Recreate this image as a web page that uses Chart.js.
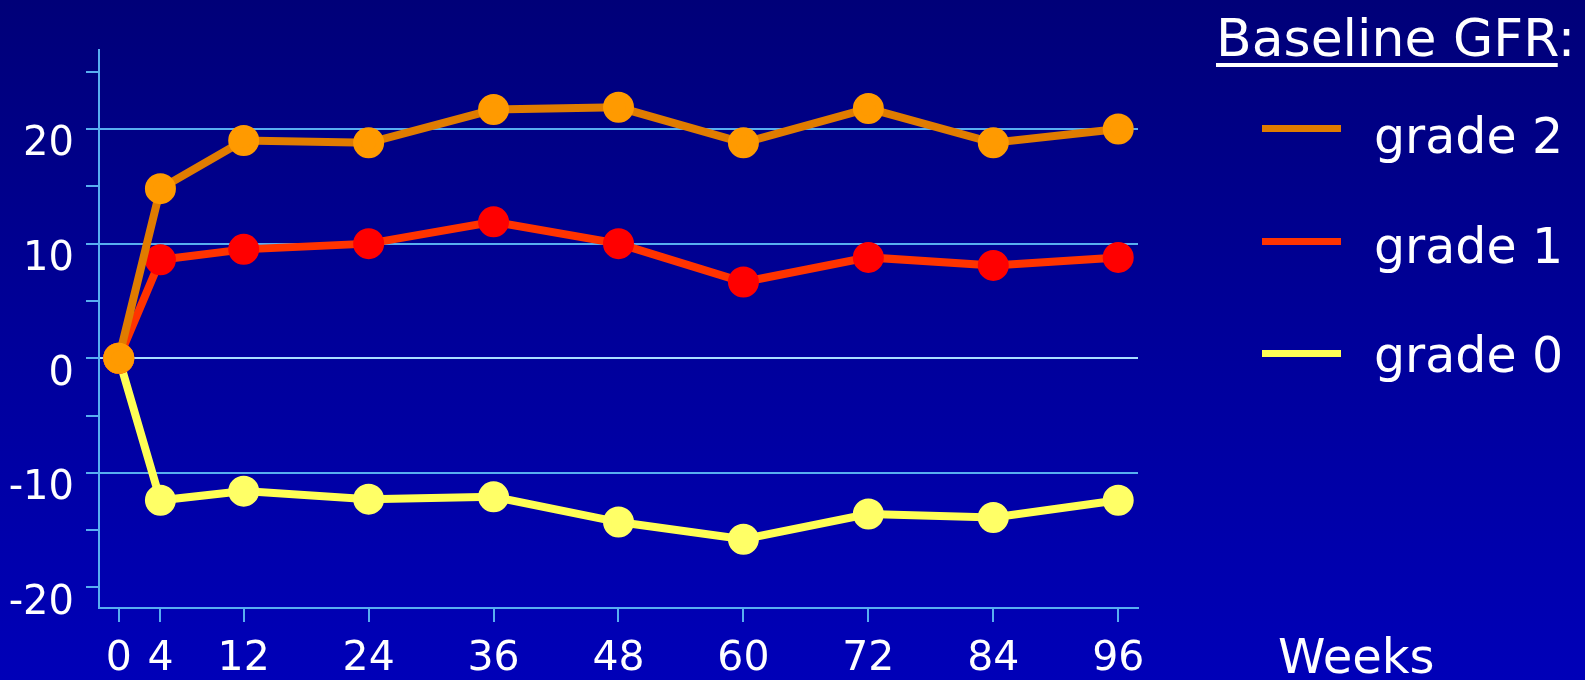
<!DOCTYPE html>
<html>
<head>
<meta charset="utf-8">
<script src="https://cdn.jsdelivr.net/npm/chart.js@4.4.1/dist/chart.umd.min.js"></script>
<style>
  html, body { margin: 0; padding: 0; }
  body {
    width: 1585px; height: 680px; overflow: hidden; position: relative;
    background: linear-gradient(to bottom, #000078 0%, #00009a 50%, #0000b8 100%);
    font-family: "DejaVu Sans", sans-serif; color: #fff;
  }
  #wrap { position: absolute; left: 0; top: 0; width: 1585px; height: 680px; }
  .txt { position: absolute; white-space: nowrap; }
  .legend-title { left: 1216px; top: 12px; font-size: 52px; line-height: 52px; }
  .legend-title span { text-decoration: underline; text-decoration-thickness: 4px; text-underline-offset: 7px; }
  .swatch { position: absolute; left: 1262px; width: 79px; height: 7px; }
  .legend-label { left: 1374px; font-size: 49px; line-height: 49px; }
  .weeks { left: 1278px; top: 632px; font-size: 48px; line-height: 48px; }
</style>
</head>
<body>
<div id="wrap"><canvas id="gfrChart" width="1585" height="680"></canvas></div>
<div class="txt legend-title"><span>Baseline GFR</span>:</div>
<div id="legend"></div>
<div class="txt weeks">Weeks</div>
<script>
// --- Data ---
const weeks = [0, 4, 12, 24, 36, 48, 60, 72, 84, 96];
const grade2 = [0, 14.8, 19.0, 18.8, 21.7, 21.9, 18.8, 21.8, 18.8, 20.0];
const grade1 = [0, 8.6, 9.5, 10.0, 11.9, 10.0, 6.65, 8.8, 8.1, 8.8];
const grade0 = [0, -12.4, -11.6, -12.3, -12.1, -14.3, -15.8, -13.6, -13.9, -12.4];
const yTicks = [-20, -15, -10, -5, 0, 5, 10, 15, 20, 25];
const yLabels = [-20, -10, 0, 10, 20];

const series = [
    { label: 'grade 2', data: grade2, line: '#e07c00', point: '#ff9a00' },
    { label: 'grade 1', data: grade1, line: '#ff3300', point: '#ff0000' },
    { label: 'grade 0', data: grade0, line: '#ffff55', point: '#ffff66' }
];

// legend (HTML), swatch centres and text tops
const swatchY = [128.5, 241, 353];
const labelTop = [112, 222, 331];
const legend = document.getElementById('legend');
series.forEach((s, i) => {
    const sw = document.createElement('div');
    sw.className = 'swatch';
    sw.style.top = (swatchY[i] - 3.5) + 'px';
    sw.style.background = s.line;
    legend.appendChild(sw);

    const lb = document.createElement('div');
    lb.className = 'txt legend-label';
    lb.style.top = labelTop[i] + 'px';
    lb.textContent = s.label;
    legend.appendChild(lb);
});

const axisBlue = '#58aef0';
Chart.defaults.font.family = '"DejaVu Sans", sans-serif';

new Chart(document.getElementById('gfrChart'), {
    type: 'line',
    data: {
        datasets: series.map(s => ({
            label: s.label,
            data: weeks.map((w, i) => ({ x: w, y: s.data[i] })),
            borderColor: s.line,
            backgroundColor: s.point,
            pointBackgroundColor: s.point,
            pointBorderColor: s.point,
            pointRadius: 11.5,
            borderWidth: 8,
            tension: 0,
            fill: false
        }))
    },
    options: {
        responsive: false,
        animation: false,
        layout: { padding: { top: 50, right: 447, left: 0, bottom: 0 } },
        plugins: { legend: { display: false }, tooltip: { enabled: false } },
        scales: {
            x: {
                type: 'linear',
                min: -1.9,
                max: 97.9,
                afterBuildTicks: scale => { scale.ticks = weeks.map(v => ({ value: v })); },
                afterFit: scale => { scale.height = 72; },
                border: { color: axisBlue, width: 2 },
                grid: { drawOnChartArea: false, tickLength: 14, tickColor: axisBlue, lineWidth: 2 },
                ticks: { color: '#fff', font: { size: 41 }, padding: 13, maxRotation: 0, autoSkip: false }
            },
            y: {
                min: -21.8,
                max: 26.9,
                afterBuildTicks: scale => { scale.ticks = yTicks.map(v => ({ value: v })); },
                afterFit: scale => { scale.width = 99; },
                border: { color: axisBlue, width: 2 },
                grid: {
                    tickLength: 13,
                    tickColor: axisBlue,
                    lineWidth: 2,
                    color: ctx => {
                        const v = ctx.tick ? ctx.tick.value : null;
                        if (v === 0) return '#a8dcff';
                        if (v === 10 || v === 20 || v === -10) return axisBlue;
                        return 'rgba(0,0,0,0)';
                    }
                },
                ticks: {
                    color: '#fff',
                    font: { size: 40 },
                    padding: 12,
                    labelOffset: 16,
                    autoSkip: false,
                    callback: v => yLabels.includes(v) ? String(v) : ''
                }
            }
        }
    }
});
</script>
</body>
</html>
